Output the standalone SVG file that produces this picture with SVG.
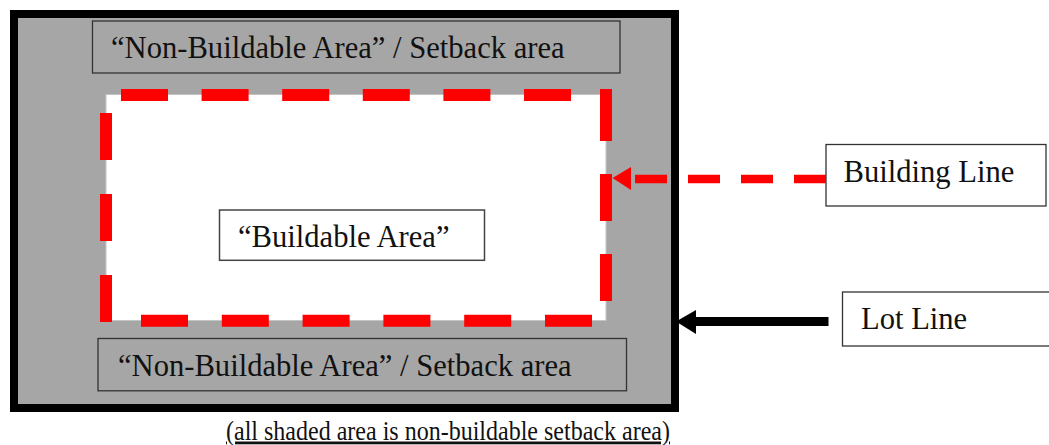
<svg xmlns="http://www.w3.org/2000/svg" width="1049" height="445" viewBox="0 0 1049 445">
<style>
.lbl{font-family:"Liberation Serif","Times New Roman",serif;font-size:30.6px;fill:#111}
.box{stroke:#333;stroke-width:1.3}
.red{fill:none;stroke:#ff0000;stroke-width:12}
</style>
<rect width="1049" height="445" fill="#ffffff"/>
<g id="lot">
<rect x="14" y="14" width="661" height="394" fill="#a6a6a6" stroke="#000" stroke-width="8"/>
</g>
<g id="buildable-area">
<rect x="106" y="94.5" width="500" height="226" fill="#ffffff" stroke="#c4c4c4" stroke-width="1"/>
</g>
<g id="building-line-rect">
<line class="red" x1="121" y1="95" x2="572" y2="95" stroke-dasharray="47 33.6"/>
<line class="red" x1="141" y1="320.7" x2="592" y2="320.7" stroke-dasharray="47 33.8"/>
<line class="red" x1="106" y1="113" x2="106" y2="322" stroke-dasharray="47 34"/>
<line class="red" x1="606" y1="89" x2="606" y2="302" stroke-dasharray="52 33 47 33 47 40"/>
</g>
<g id="setback-top">
<rect class="box" x="92.5" y="21" width="527.5" height="52" fill="#a6a6a6"/>
<text class="lbl" x="111" y="58.3">“Non-Buildable Area” / Setback area</text>
</g>
<g id="setback-bottom">
<rect class="box" x="98" y="338.5" width="528.5" height="52.3" fill="#a6a6a6"/>
<text class="lbl" x="118" y="376">“Non-Buildable Area” / Setback area</text>
</g>
<g id="buildable-label">
<rect x="219.5" y="210" width="265" height="50.3" fill="#ffffff" stroke="#444" stroke-width="1.5"/>
<text class="lbl" x="238" y="246.7">“Buildable Area”</text>
</g>
<g id="building-line-label">
<rect class="box" x="826" y="144.5" width="220" height="61.5" fill="#ffffff"/>
<text class="lbl" x="843.5" y="182.3">Building Line</text>
</g>
<g id="lot-line-label">
<rect class="box" x="842.5" y="292" width="215" height="54" fill="#ffffff"/>
<text class="lbl" x="861" y="329.3">Lot Line</text>
</g>
<g id="connectors">
<path d="M826 179 H633" fill="none" stroke="#ff0000" stroke-width="8.5" stroke-dasharray="32 21"/>
<polygon points="612.5,178 631,167 631,190" fill="#ff0000"/>
<line x1="828.5" y1="321.5" x2="695" y2="321.5" stroke="#000" stroke-width="9"/>
<polygon points="676,321.5 696,310 696,334" fill="#000"/>
</g>
<g id="caption">
<text x="226" y="439.5" font-family="Liberation Serif, Times New Roman, serif" font-size="28" fill="#111" text-decoration="underline" textLength="444" lengthAdjust="spacingAndGlyphs">(all shaded area is non-buildable setback area)</text>
</g>
</svg>
